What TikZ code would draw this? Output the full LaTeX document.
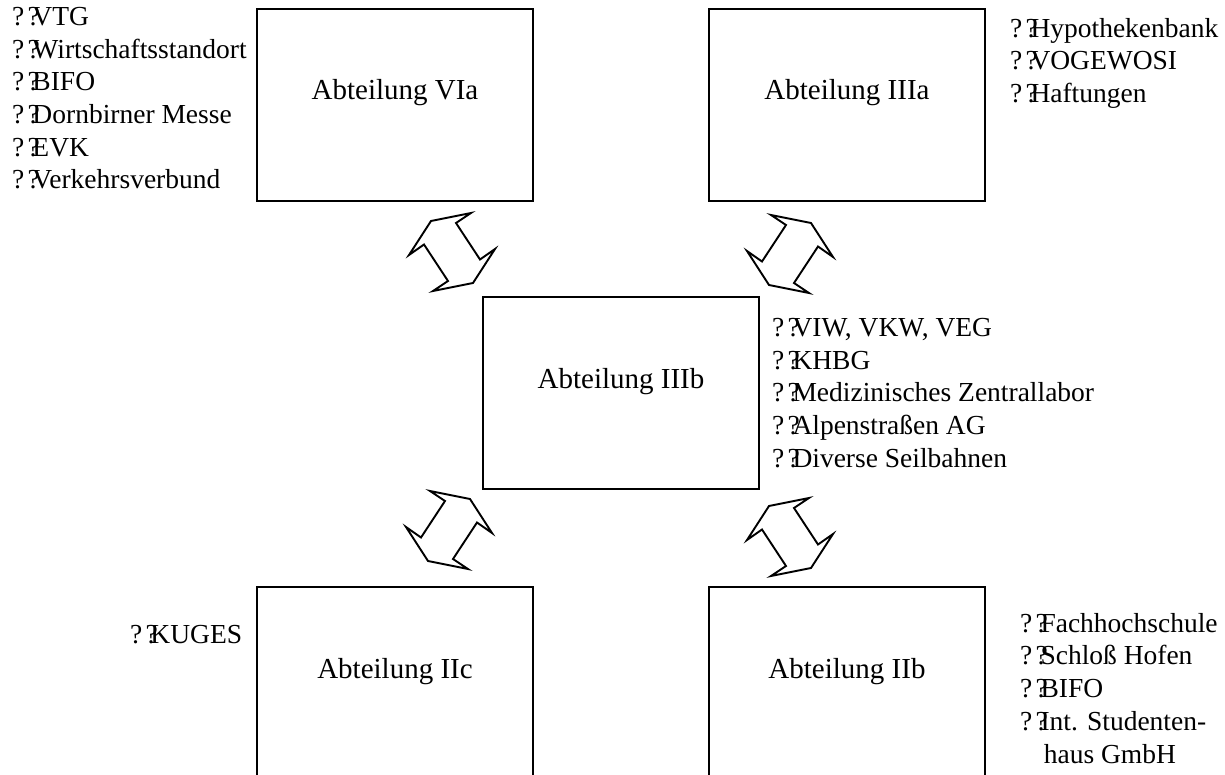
\documentclass[tikz,border=0pt]{standalone}
\usepackage{fontspec}
\setmainfont{Liberation Serif}
\newcommand{\qq}{?\hspace{0.12em}?\kern-0.27em}
\tikzset{
  abt/.style={draw, line width=1.9pt, minimum width=276pt, minimum height=192pt,
    text height=20pt, text depth=30pt, font=\fontsize{29}{34}\selectfont},
  liste/.style={align=left, anchor=north west, inner sep=0pt,
    font=\fontsize{27.5}{32.7}\selectfont},
  pfeil/.style={draw, line width=1.9pt, fill=white},
  doppelpfeil/.pic={
    \draw[pfeil] (-21,-31) -- (19,-39) -- (4,-29) -- (28,7.5) -- (43,-3)
      -- (21,31) -- (-19,39) -- (-4,29) -- (-28,-7.5) -- (-43,3) -- cycle;
  }
}
\begin{document}
\begin{tikzpicture}[x=1pt,y=-1pt]
  \clip (0,0) rectangle (1225,775);

  % Abteilungen
  \node[abt] (via)   at (395,105) {Abteilung VIa};
  \node[abt] (iiia)  at (847,105) {Abteilung IIIa};
  \node[abt] (iiib)  at (621,393) {Abteilung IIIb};
  \node[abt] (iic)   at (395,683) {Abteilung IIc};
  \node[abt] (iib)   at (847,683) {Abteilung IIb};

  % Listen
  \node[liste] (lvia) at (12,7) {\qq VTG\\ \qq Wirtschaftsstandort\\ \qq BIFO\\
    \qq Dornbirner Messe\\ \qq EVK\\ \qq Verkehrsverbund};
  \node[liste] (liiia) at (1010,18) {\qq Hypothekenbank\\ \qq VOGEWOSI\\ \qq Haftungen};
  \node[liste] (liiib) at (772,318) {\qq VIW, VKW, VEG\\ \qq KHBG\\
    \qq Medizinisches Zentrallabor\\ \qq Alpenstraßen AG\\ \qq Diverse Seilbahnen};
  \node[liste] (liic) at (130,625) {\qq KUGES};
  \node[liste] (liib) at (1020,613) {\qq Fachhochschule\\ \qq Schloß Hofen\\ \qq BIFO\\
    \qq Int. Studenten-\\ \phantom{?}\hspace{0.12em}\phantom{?}\hspace{-0.15em}haus GmbH};

  % Pfeile
  \pic at (452,252) {doppelpfeil};
  \pic[xscale=-1] at (790,254) {doppelpfeil};
  \pic[xscale=-1] at (449,530) {doppelpfeil};
  \pic at (790,537) {doppelpfeil};
\end{tikzpicture}
\end{document}
